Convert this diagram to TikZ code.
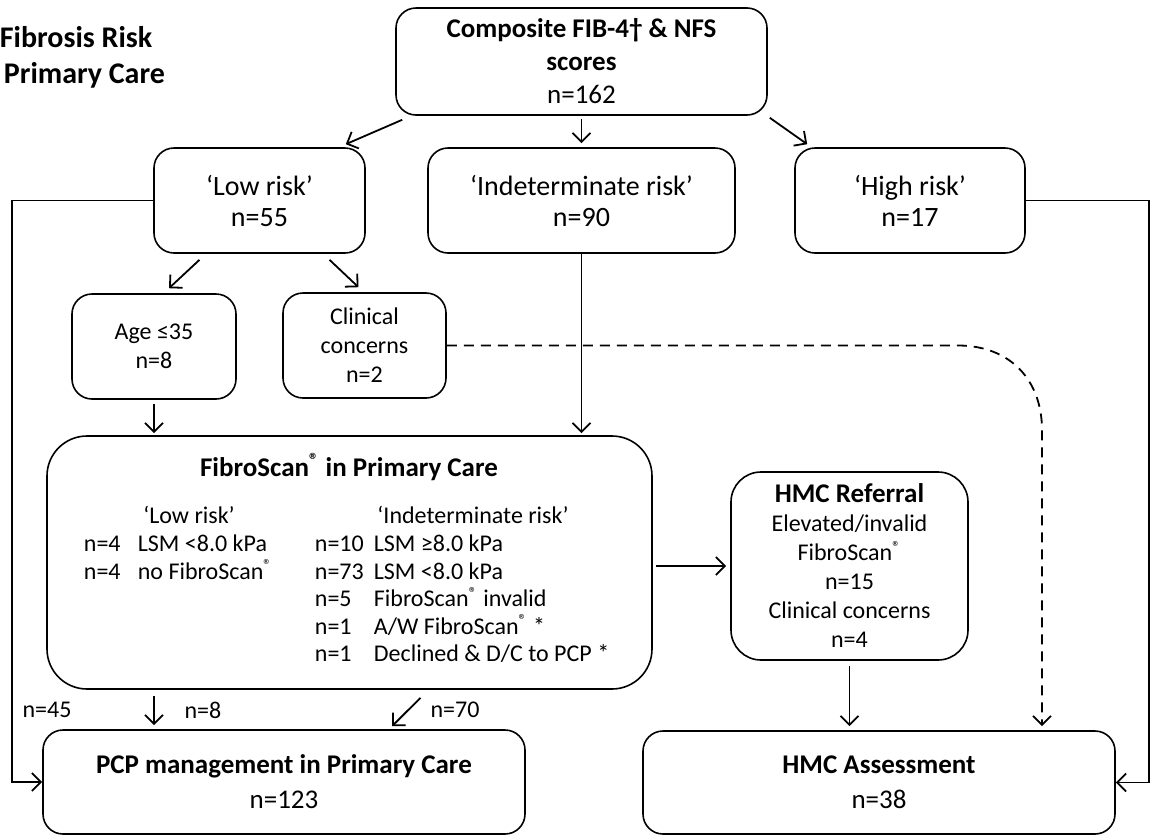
\documentclass[tikz,border=0pt]{standalone}
\usepackage{fontspec}
\setmainfont{Carlito}
\usetikzlibrary{arrows.meta}

\newcommand{\nlab}[2][29.5pt]{\makebox[#1][l]{#2}}

\tikzset{
  rbox/.style={draw, line width=0.8pt, rounded corners=10pt, align=center, inner sep=0.75pt},
  txt/.style={inner sep=0.75pt, font=\fontsize{12}{14}\selectfont},
  conn/.style={line width=0.9pt, -{Straight Barb[length=4.5pt,width=9pt]}},
  dconn/.style={conn, dash pattern=on 5pt off 3.5pt},
}

\begin{document}
\begin{tikzpicture}[x=0.5pt,y=0.5pt,yscale=-1,xscale=1]
\useasboundingbox (0,0) rectangle (1157,836);

% Text Node
\node [anchor=west][inner sep=0.75pt][font=\fontsize{15}{18}\selectfont\bfseries] (ttlA) at (-2,37) {Fibrosis Risk};
% Text Node
\node [anchor=west][inner sep=0.75pt][font=\fontsize{15}{18}\selectfont\bfseries] (ttlB) at (2,75) {Primary Care};

%Rounded Rect
\node [rbox, minimum width=185.5pt, minimum height=53.5pt, font=\fontsize{13.5}{16.5}\selectfont] (top) at (581.5,61.5) {\textbf{Composite FIB-4† \& NFS}\\\textbf{scores}\\n=162};
%Rounded Rect
\node [rbox, minimum width=105.5pt, minimum height=52.5pt, font=\fontsize{14}{15.5}\selectfont] (low) at (259.5,200.5) {‘Low risk’\\n=55};
%Rounded Rect
\node [rbox, minimum width=153.5pt, minimum height=52.5pt, font=\fontsize{14}{15.5}\selectfont] (indet) at (581.5,200.5) {‘Indeterminate risk’\\n=90};
%Rounded Rect
\node [rbox, minimum width=115pt, minimum height=52.5pt, font=\fontsize{14}{15.5}\selectfont] (high) at (910,200.5) {‘High risk’\\n=17};
%Rounded Rect
\node [rbox, minimum width=82pt, minimum height=52.5pt, font=\fontsize{12}{14.5}\selectfont] (age) at (154,346.5) {Age ≤35\\n=8};
%Rounded Rect
\node [rbox, minimum width=81.5pt, minimum height=52.5pt, font=\fontsize{12}{14.5}\selectfont] (clin) at (364.5,345.5) {Clinical\\concerns\\n=2};
%Rounded Rect
\node [rbox, rounded corners=20pt, minimum width=302.5pt, minimum height=126.5pt] (fibro) at (349.5,562.5) {};
%Rounded Rect
\node [rbox, rounded corners=15pt, minimum width=118.5pt, minimum height=94pt, font=\fontsize{12}{14.5}\selectfont] (ref) at (849.5,566) {{\fontsize{13.5}{14.5}\selectfont\bfseries HMC Referral}\\Elevated/invalid\\FibroScan\textsuperscript{®}\\n=15\\Clinical concerns\\n=4};
%Rounded Rect
\node [rbox, minimum width=241pt, minimum height=52pt, font=\fontsize{13.5}{17.5}\selectfont] (pcp) at (284,782) {\textbf{PCP management in Primary Care}\\n=123};
%Rounded Rect
\node [rbox, minimum width=236pt, minimum height=51.5pt, font=\fontsize{13.5}{17.5}\selectfont] (ass) at (879,782.5) {\textbf{HMC Assessment}\\n=38};

% Text Node
\node [inner sep=0.75pt][font=\fontsize{13.5}{16}\selectfont\bfseries] (fsTitle) at (349,467) {FibroScan\textsuperscript{®} in Primary Care};
% Text Node
\node [txt] (fsLowHd) at (189,515) {‘Low risk’};
% Text Node
\node [txt] (fsIndHd) at (473,515) {‘Indeterminate risk’};
% Text Node
\node [txt, anchor=west, align=left, font=\fontsize{12}{13.75}\selectfont] (fsLowList) at (82,557) {\nlab[27pt]{n=4}LSM <8.0 kPa\\\nlab[27pt]{n=4}no FibroScan\textsuperscript{®}};
% Text Node
\node [txt, anchor=west, align=left, font=\fontsize{12}{13.75}\selectfont] (fsIndList) at (313,599) {\nlab{n=10}LSM ≥8.0 kPa\\\nlab{n=73}LSM <8.0 kPa\\\nlab{n=5}FibroScan\textsuperscript{®} invalid\\\nlab{n=1}A/W FibroScan\textsuperscript{®} *\\\nlab{n=1}Declined \& D/C to PCP *};

% Text Node
\node [txt] (n45) at (47,710) {n=45};
% Text Node
\node [txt] (n8) at (203,710) {n=8};
% Text Node
\node [txt] (n70) at (455,710) {n=70};

\coordinate (lft) at (12,0);
\coordinate (rgt) at (1149,0);
\coordinate (dbend) at (958,345.5);
\coordinate (dturn) at (1042,430);

%Straight Lines
\draw [conn] ([shift={(7,4)}]top.south west) -- ([shift={(-20,-3)}]low.north east);
%Straight Lines
\draw [conn, shorten <=1.5pt, shorten >=2pt] (top.south) -- (indet.north);
%Straight Lines
\draw [conn] ([shift={(2,2)}]top.south east) -- ([shift={(13,-3)}]high.north west);
%Straight Lines
\draw [conn] ([shift={(-60,6)}]low.south) -- ([shift={(15,-5)}]age.north);
%Straight Lines
\draw [conn] ([shift={(70,6)}]low.south) -- ([shift={(-6,-5)}]clin.north);
%Straight Lines
\draw [conn, shorten <=2pt, shorten >=1pt] (age.south) -- (age.south |- fibro.north);
%Straight Lines
\draw [conn, shorten >=1pt] (indet.south) -- (indet.south |- fibro.north);
%Straight Lines
\draw [conn] (low.west) -- (low.west -| lft) |- (pcp.west);
%Straight Lines
\draw [conn] (high.east) -- (high.east -| rgt) |- (ass.east);
%Curve Lines
\draw [dconn, shorten >=2pt] (clin.east) -- (dbend) .. controls (1010,345.5) and (1042,380) .. (dturn) -- (dturn |- ass.north);
%Straight Lines
\draw [conn, shorten <=1.5pt, shorten >=2pt] (ref.west -| fibro.east) -- (ref.west);
%Straight Lines
\draw [conn, shorten <=2.5pt, shorten >=2pt] (ref.south) -- (ref.south |- ass.north);
%Straight Lines
\draw [conn, shorten <=3pt, shorten >=2pt] (fibro.south -| age.south) -- (pcp.north -| age.south);
%Straight Lines
\draw [conn] ([shift={(71,8)}]fibro.south) -- ([shift={(108,-3)}]pcp.north);

\end{tikzpicture}
\end{document}
